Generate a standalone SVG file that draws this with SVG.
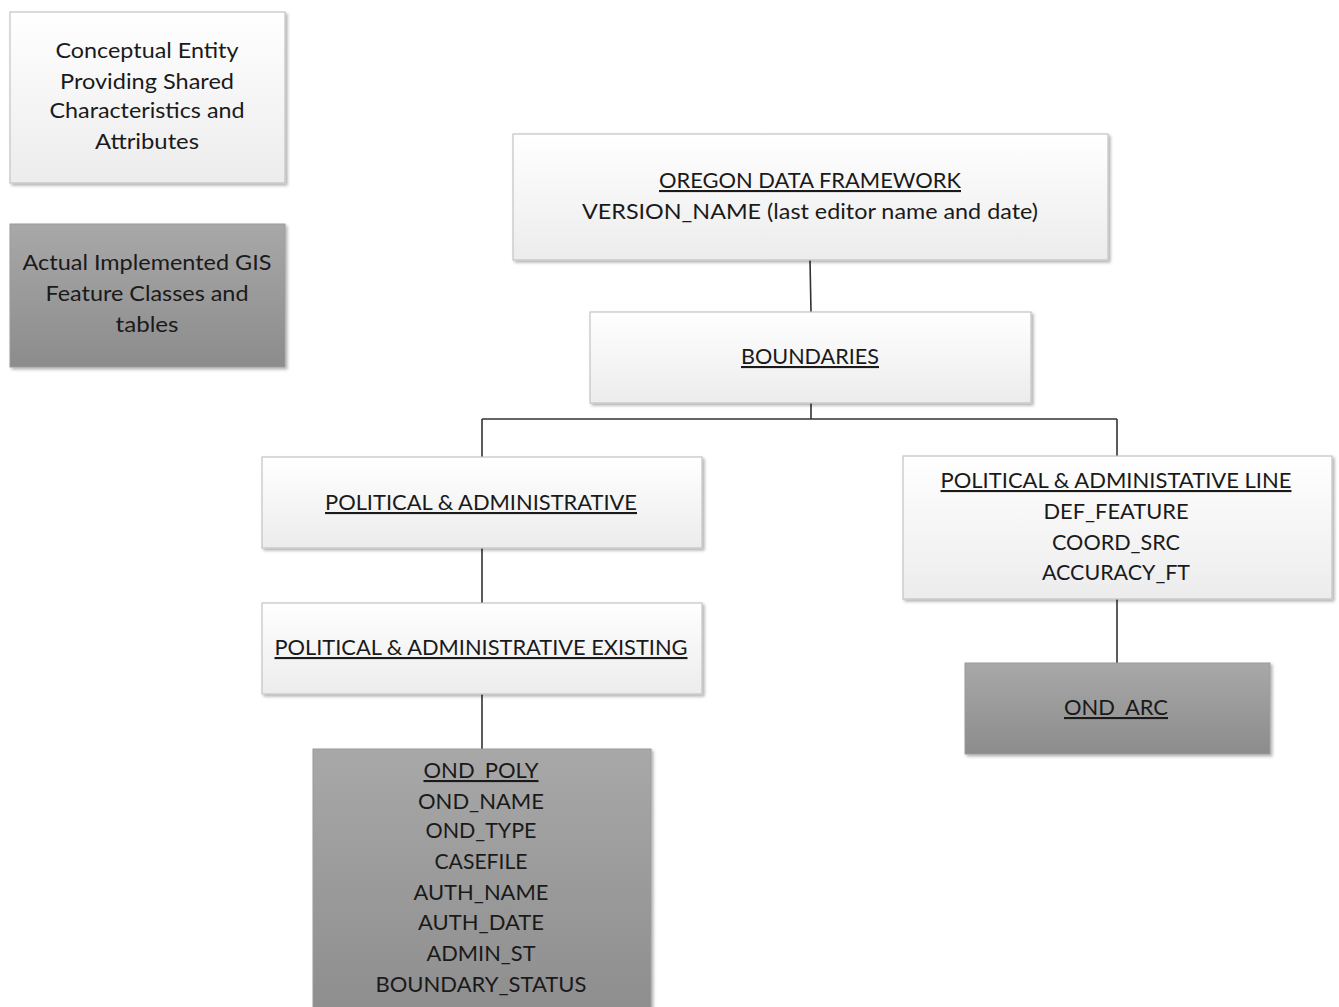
<svg xmlns="http://www.w3.org/2000/svg" width="1339" height="1007" viewBox="0 0 1339 1007">
<style>
.t{font-family:Lato,"Liberation Sans",sans-serif;font-size:21px;fill:#1a1a1a;text-anchor:middle}
.u{text-decoration:underline}
.lt{fill:url(#gl);stroke:#c4c4c4;stroke-width:1.2;filter:url(#sh)}
.dk{fill:url(#gd);stroke:#9a9a9a;stroke-width:1;filter:url(#sh)}
.c{stroke:#333;stroke-width:1.6;fill:none}
</style>
<defs>
<linearGradient id="gl" x1="0" y1="0" x2="0" y2="1"><stop offset="0" stop-color="#ffffff"/><stop offset="1" stop-color="#ececec"/></linearGradient>
<linearGradient id="gd" x1="0" y1="0" x2="0" y2="1"><stop offset="0" stop-color="#a8a8a8"/><stop offset="1" stop-color="#8c8c8c"/></linearGradient>
<filter id="sh" x="-5%" y="-5%" width="112%" height="115%"><feDropShadow dx="2" dy="2" stdDeviation="1.5" flood-color="#000" flood-opacity="0.3"/></filter>
</defs>
<g id="connectors">
<path class="c" d="M810 260 L811 312"/>
<path class="c" d="M811 403 V419 M482 419 H1117 M482 419 V457 M1117 419 V456"/>
<path class="c" d="M482 548 V603"/>
<path class="c" d="M482 694 V749"/>
<path class="c" d="M1117 599 V663"/>
</g>
<g id="legend-conceptual">
<rect class="lt" x="10" y="12" width="275" height="171"/>
<text class="t" x="147" y="58" textLength="183" lengthAdjust="spacingAndGlyphs">Conceptual Entity</text>
<text class="t" x="147" y="89" textLength="174" lengthAdjust="spacingAndGlyphs">Providing Shared</text>
<text class="t" x="147" y="118" textLength="195" lengthAdjust="spacingAndGlyphs">Characteristics and</text>
<text class="t" x="147" y="149" textLength="104" lengthAdjust="spacingAndGlyphs">Attributes</text>
</g>
<g id="legend-actual">
<rect class="dk" x="10" y="224" width="275" height="143"/>
<text class="t" x="147" y="270" textLength="249" lengthAdjust="spacingAndGlyphs">Actual Implemented GIS</text>
<text class="t" x="147" y="301" textLength="203" lengthAdjust="spacingAndGlyphs">Feature Classes and</text>
<text class="t" x="147" y="332" textLength="63" lengthAdjust="spacingAndGlyphs">tables</text>
</g>
<g id="oregon">
<rect class="lt" x="513" y="134" width="595" height="126"/>
<text class="t u" x="810" y="188" textLength="302" lengthAdjust="spacingAndGlyphs">OREGON DATA FRAMEWORK</text>
<text class="t" x="810" y="219" textLength="456" lengthAdjust="spacingAndGlyphs">VERSION_NAME (last editor name and date)</text>
</g>
<g id="boundaries">
<rect class="lt" x="590" y="312" width="441" height="91"/>
<text class="t u" x="810" y="364" textLength="138" lengthAdjust="spacingAndGlyphs">BOUNDARIES</text>
</g>
<g id="pol-admin">
<rect class="lt" x="262" y="457" width="440" height="91"/>
<text class="t u" x="481" y="510" textLength="312" lengthAdjust="spacingAndGlyphs">POLITICAL &amp; ADMINISTRATIVE</text>
</g>
<g id="pol-admin-existing">
<rect class="lt" x="262" y="603" width="440" height="91"/>
<text class="t u" x="481" y="655" textLength="413" lengthAdjust="spacingAndGlyphs">POLITICAL &amp; ADMINISTRATIVE EXISTING</text>
</g>
<g id="pol-admin-line">
<rect class="lt" x="903" y="456" width="429" height="143"/>
<text class="t u" x="1116" y="488" textLength="351" lengthAdjust="spacingAndGlyphs">POLITICAL &amp; ADMINISTATIVE LINE</text>
<text class="t" x="1116" y="519" textLength="145" lengthAdjust="spacingAndGlyphs">DEF_FEATURE</text>
<text class="t" x="1116" y="550" textLength="128" lengthAdjust="spacingAndGlyphs">COORD_SRC</text>
<text class="t" x="1116" y="580" textLength="148" lengthAdjust="spacingAndGlyphs">ACCURACY_FT</text>
</g>
<g id="ond-arc">
<rect class="dk" x="965" y="663" width="305" height="91"/>
<text class="t u" x="1116" y="715" textLength="104" lengthAdjust="spacingAndGlyphs">OND_ARC</text>
</g>
<g id="ond-poly">
<rect class="dk" x="313" y="749" width="338" height="280"/>
<text class="t u" x="481" y="778" textLength="115" lengthAdjust="spacingAndGlyphs">OND_POLY</text>
<text class="t" x="481" y="809" textLength="126" lengthAdjust="spacingAndGlyphs">OND_NAME</text>
<text class="t" x="481" y="838" textLength="111" lengthAdjust="spacingAndGlyphs">OND_TYPE</text>
<text class="t" x="481" y="869" textLength="93" lengthAdjust="spacingAndGlyphs">CASEFILE</text>
<text class="t" x="481" y="900" textLength="135" lengthAdjust="spacingAndGlyphs">AUTH_NAME</text>
<text class="t" x="481" y="930" textLength="126" lengthAdjust="spacingAndGlyphs">AUTH_DATE</text>
<text class="t" x="481" y="961" textLength="109" lengthAdjust="spacingAndGlyphs">ADMIN_ST</text>
<text class="t" x="481" y="992" textLength="211" lengthAdjust="spacingAndGlyphs">BOUNDARY_STATUS</text>
</g>
</svg>
